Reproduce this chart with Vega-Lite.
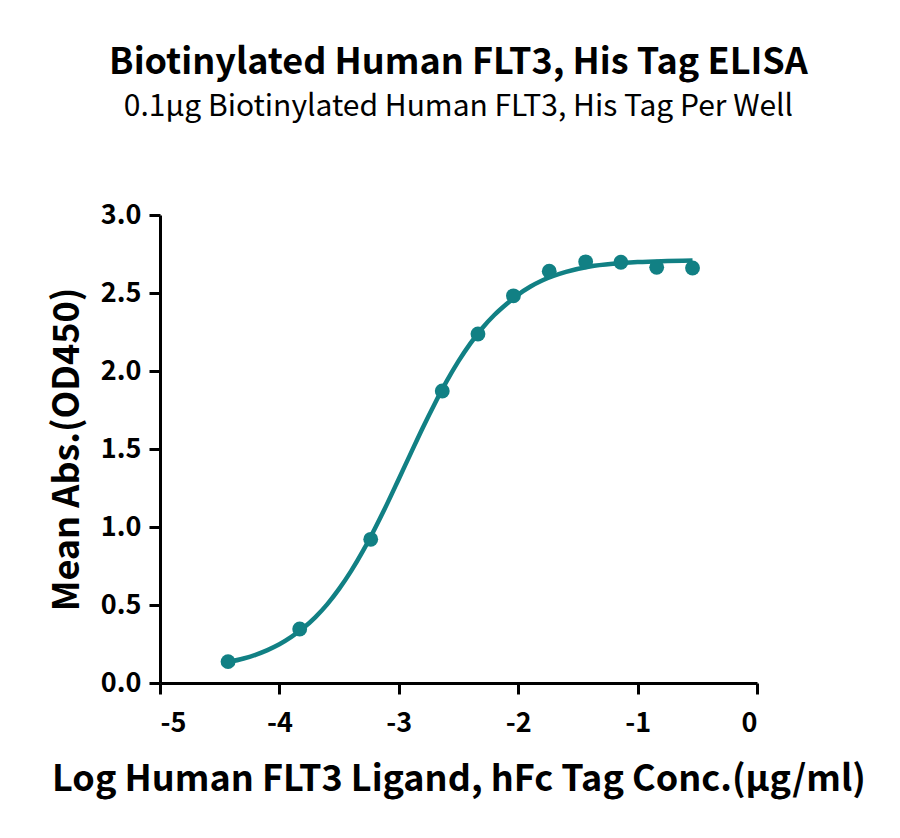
{
  "$schema": "https://vega.github.io/schema/vega-lite/v6.json",
  "autosize": {"type": "none"},
  "width": 597,
  "height": 468,
  "padding": {"left": 160, "top": 215, "right": 143, "bottom": 155},
  "background": "white",
  "title": {
    "text": "Biotinylated Human FLT3, His Tag ELISA",
    "subtitle": "0.1μg Biotinylated Human FLT3, His Tag Per Well",
    "anchor": "middle",
    "frame": "group",
    "font": "Noto Sans CJK SC",
    "fontSize": 36,
    "fontWeight": "bold",
    "color": "black",
    "subtitleFont": "Noto Sans CJK SC",
    "subtitleFontSize": 30,
    "subtitleColor": "black",
    "subtitlePadding": 10,
    "offset": 78
  },
  "config": {
    "view": {"stroke": null},
    "font": "Noto Sans CJK SC",
    "axis": {
      "grid": false,
      "domainColor": "black",
      "domainWidth": 3,
      "tickColor": "black",
      "tickWidth": 3,
      "tickSize": 11,
      "labelFont": "Noto Sans CJK SC",
      "labelFontSize": 27,
      "labelFontWeight": "bold",
      "labelColor": "black",
      "titleFont": "Noto Sans CJK SC",
      "titleFontSize": 36,
      "titleFontWeight": "bold",
      "titleColor": "black"
    }
  },
  "datasets": {
    "points": [
      {"logc": -4.43, "od": 0.137},
      {"logc": -3.83, "od": 0.346},
      {"logc": -3.235, "od": 0.921},
      {"logc": -2.636, "od": 1.872},
      {"logc": -2.337, "od": 2.237},
      {"logc": -2.04, "od": 2.482},
      {"logc": -1.74, "od": 2.64},
      {"logc": -1.435, "od": 2.70},
      {"logc": -1.14, "od": 2.697},
      {"logc": -0.84, "od": 2.665},
      {"logc": -0.54, "od": 2.66}
    ],
    "curve": [
      {"logc": -4.43, "od": 0.134},
      {"logc": -4.3, "od": 0.157},
      {"logc": -4.2, "od": 0.181},
      {"logc": -4.1, "od": 0.211},
      {"logc": -4.0, "od": 0.248},
      {"logc": -3.9, "od": 0.295},
      {"logc": -3.8, "od": 0.352},
      {"logc": -3.7, "od": 0.421},
      {"logc": -3.6, "od": 0.504},
      {"logc": -3.5, "od": 0.603},
      {"logc": -3.4, "od": 0.717},
      {"logc": -3.3, "od": 0.847},
      {"logc": -3.2, "od": 0.991},
      {"logc": -3.1, "od": 1.145},
      {"logc": -3.0, "od": 1.308},
      {"logc": -2.9, "od": 1.472},
      {"logc": -2.8, "od": 1.635},
      {"logc": -2.7, "od": 1.789},
      {"logc": -2.6, "od": 1.933},
      {"logc": -2.5, "od": 2.063},
      {"logc": -2.4, "od": 2.177},
      {"logc": -2.3, "od": 2.276},
      {"logc": -2.2, "od": 2.359},
      {"logc": -2.1, "od": 2.428},
      {"logc": -2.0, "od": 2.49},
      {"logc": -1.9, "od": 2.54},
      {"logc": -1.8, "od": 2.58},
      {"logc": -1.6, "od": 2.635},
      {"logc": -1.4, "od": 2.67},
      {"logc": -1.2, "od": 2.688},
      {"logc": -1.0, "od": 2.698},
      {"logc": -0.8, "od": 2.704},
      {"logc": -0.54, "od": 2.708}
    ]
  },
  "encoding": {
    "x": {
      "field": "logc",
      "type": "quantitative",
      "scale": {"domain": [-5, 0], "nice": false},
      "axis": {
        "title": "Log Human FLT3 Ligand, hFc Tag Conc.(μg/ml)",
        "values": [-5, -4, -3, -2, -1, 0],
        "labelExpr": "'' + datum.value",
        "labelPadding": 16,
        "titlePadding": 26
      }
    },
    "y": {
      "field": "od",
      "type": "quantitative",
      "scale": {"domain": [0, 3], "nice": false},
      "axis": {
        "title": "Mean Abs.(OD450)",
        "values": [0, 0.5, 1, 1.5, 2, 2.5, 3],
        "format": ".1f",
        "labelPadding": 8,
        "titlePadding": 14
      }
    }
  },
  "layer": [
    {
      "data": {"name": "curve"},
      "mark": {"type": "line", "color": "#118084", "strokeWidth": 4.5, "interpolate": "monotone"}
    },
    {
      "data": {"name": "points"},
      "mark": {"type": "circle", "color": "#118084", "opacity": 1, "size": 220}
    }
  ]
}
